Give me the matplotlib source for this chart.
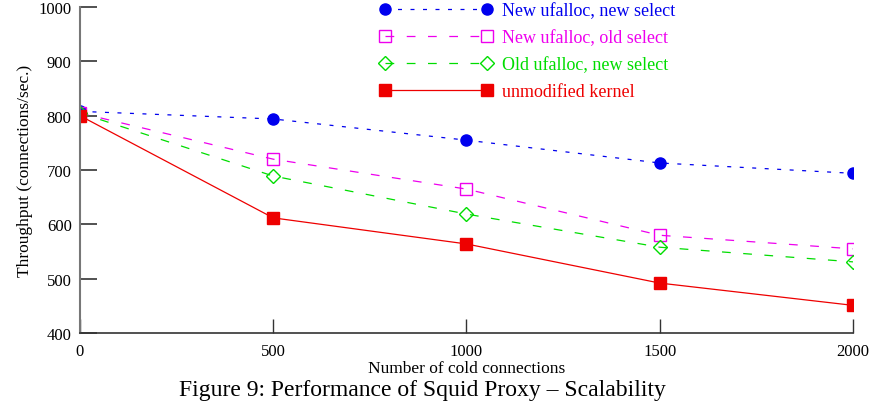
import matplotlib.pyplot as plt

plt.rcParams['font.family'] = ['Liberation Serif', 'DejaVu Serif']

x = [0, 500, 1000, 1500, 2000]
new_alloc_new_sel = [808, 794, 755, 713, 694]
new_alloc_old_sel = [805, 720, 665, 580, 555]
old_alloc_new_sel = [805, 689, 619, 558, 531]
unmodified = [800, 612, 564, 492, 451]

fig = plt.figure(figsize=(8.76, 4.02), dpi=100)
ax = fig.add_axes([0.0913, 0.169, 0.8824, 0.811])

ax.plot(x, new_alloc_new_sel, color='#0000ee', ls=(0, (3.2, 6.8)), lw=0.9,
        marker='o', ms=8, label='New ufalloc, new select')
ax.plot(x, new_alloc_old_sel, color='#ee00ee', ls=(0, (7, 10)), lw=0.9,
        marker='s', ms=8, mfc='none', mew=1.0, label='New ufalloc, old select')
ax.plot(x, old_alloc_new_sel, color='#00dd00', ls=(0, (7, 10)), lw=0.9,
        marker='D', ms=7.5, mfc='none', mew=1.0, label='Old ufalloc, new select')
ax.plot(x, unmodified, color='#ee0000', ls='-', lw=0.9,
        marker='s', ms=8, label='unmodified kernel')

ax.set_xlim(0, 2000)
ax.set_ylim(400, 1000)
ax.set_xticks([0, 500, 1000, 1500, 2000])
ax.set_yticks([400, 500, 600, 700, 800, 900, 1000])
ax.tick_params(direction='in', labelsize=12)
ax.tick_params(axis='y', length=12, width=1.2, color='#333333', pad=6)
ax.tick_params(axis='x', length=10, width=1.0, color='#333333', pad=7)
for s in ['top', 'right']:
    ax.spines[s].set_visible(False)
ax.spines['left'].set_color('#777777')
ax.spines['left'].set_linewidth(1.5)
ax.spines['bottom'].set_color('#333333')
ax.spines['bottom'].set_linewidth(1.2)

ax.set_xlabel('Number of cold connections', fontsize=12.5, labelpad=1)
ax.set_ylabel('Throughput (connections/sec.)', fontsize=12.5)

leg = ax.legend(loc='upper left', bbox_to_anchor=(0.387, 1.016), frameon=False,
                numpoints=2, handlelength=6.3, fontsize=13, labelspacing=0.56,
                handletextpad=0.5, borderpad=0, borderaxespad=0)
for t, l in zip(leg.get_texts(), leg.get_lines()):
    t.set_color(l.get_color())

fig.text(0.482, 0.003, 'Figure 9: Performance of Squid Proxy \u2013 Scalability',
         ha='center', va='bottom', fontsize=17)

fig.savefig('out.png', dpi=100)
